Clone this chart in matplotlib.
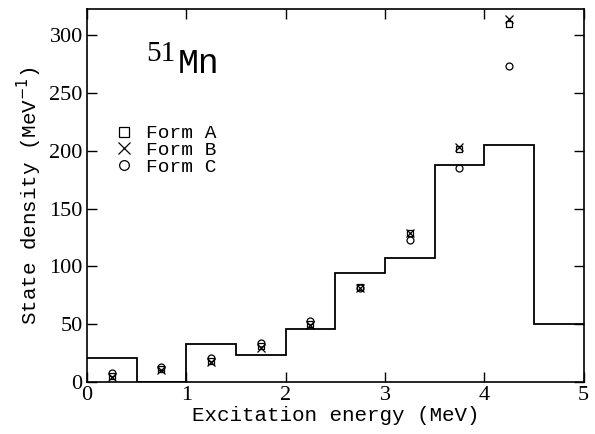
import numpy as np
import matplotlib
matplotlib.use("Agg")
import matplotlib.pyplot as plt

# histogram of state density (bin edges in MeV)
bin_edges = [0, 0.5, 1.0, 1.5, 2.0, 2.5, 3.0, 3.5, 4.0, 4.5, 5.0]
hist_vals = [21, 0, 33, 23, 46, 94, 107, 188, 205, 50]

# point estimates at bin centres
energies = [0.25, 0.75, 1.25, 1.75, 2.25, 2.75, 3.25, 3.75, 4.25]
form_a = [5, 11, 18, 31, 50, 82, 129, 202, 310]
form_b = [4, 10, 17, 29, 49, 81, 129, 203, 314]
form_c = [8, 13, 21, 34, 53, 81, 123, 185, 273]

fig = plt.figure(figsize=(5.95, 4.34), dpi=100)
ax = fig.add_axes([0.146, 0.12, 0.835, 0.86])

ax.stairs(hist_vals, bin_edges, color='black', lw=1.3, baseline=None)

ax.plot(energies, form_a, ls='none', marker='s', ms=5, mfc='none', mec='black', mew=0.9, label='Form A')
ax.plot(energies, form_b, ls='none', marker='x', ms=6, mec='black', mew=0.9, label='Form B')
ax.plot(energies, form_c, ls='none', marker='o', ms=5, mfc='none', mec='black', mew=0.9, label='Form C')

ax.set_xlim(0, 5)
ax.set_ylim(0, 323)
ax.set_xticks([0, 1, 2, 3, 4, 5])
ax.set_yticks([0, 50, 100, 150, 200, 250, 300])
ax.tick_params(direction='in', length=7, width=1, top=True, right=True,
               labelsize=16, pad=3)
for lab in ax.get_xticklabels() + ax.get_yticklabels():
    lab.set_family('Liberation Serif')
for sp in ax.spines.values():
    sp.set_linewidth(1.2)

ax.set_xlabel('Excitation energy (MeV)', family='Liberation Mono', fontsize=15, labelpad=1)
ax.set_ylabel('State density (MeV$^{-1}$)', family='Liberation Mono', fontsize=15, labelpad=4)

# nucleus label: mass number raised, then element symbol
ax.text(0.60, 278, '51', family='Liberation Serif', fontsize=21)
ax.text(0.91, 267, 'Mn', family='Liberation Mono', fontsize=25)

leg = ax.legend(loc='upper left', bbox_to_anchor=(0.04, 0.71), frameon=False,
                prop={'family': 'Liberation Mono', 'size': 14},
                handlelength=1.0, handletextpad=0.6, labelspacing=-0.05,
                borderaxespad=0, markerscale=1.4)

fig.savefig('out.png', dpi=100)
